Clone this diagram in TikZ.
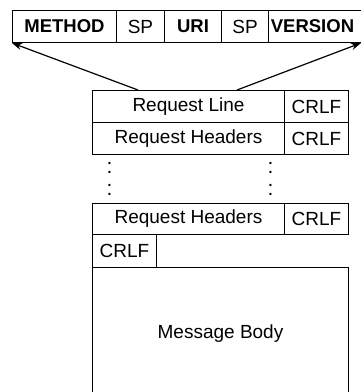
\documentclass[tikz,border=0pt]{standalone}
\usepackage{fontspec}
\setmainfont{Liberation Sans}
\usetikzlibrary{arrows.meta}
\begin{document}
\begin{tikzpicture}[x=1pt,y=-1pt,
  cell/.style={draw,line width=1pt,inner sep=0pt,anchor=north west,font=\fontsize{19}{21}\selectfont},
  bcell/.style={cell,font=\fontsize{18.5}{20}\selectfont\bfseries},
  dots/.style={inner sep=0pt,font=\fontsize{21}{22}\selectfont},
  arr/.style={line width=1.2pt,-{Stealth[length=10pt,width=7pt]}}]
\useasboundingbox (0,0) rectangle (360,392);
% top row
\node[bcell,minimum width=104pt,minimum height=32pt] (method) at (12,10) {METHOD};
\node[cell,minimum width=48pt,minimum height=32pt] (sp1) at (116,10) {SP};
\node[bcell,minimum width=57pt,minimum height=32pt] (uri) at (164,10) {URI};
\node[cell,minimum width=47pt,minimum height=32pt] (sp2) at (221,10) {SP};
\node[bcell,minimum width=96pt,minimum height=32pt] (version) at (268,10) {\hspace*{-8pt}VERSION};
% request line
\node[cell,minimum width=192pt,minimum height=32pt] (rl) at (92,90) {Request Line};
\node[cell,minimum width=64pt,minimum height=32pt] (c1) at (284,90) {CRLF};
\node[cell,minimum width=192pt,minimum height=32pt] (rh1) at (92,122) {Request Headers};
\node[cell,minimum width=64pt,minimum height=32pt] (c2) at (284,122) {CRLF};
% ellipsis
\node[dots] (d1) at (109.5,167.5) {:};
\node[dots] (d2) at (270.5,167.5) {:};
\node[dots] (d3) at (109.5,189.5) {:};
\node[dots] (d4) at (270.5,189.5) {:};
% last header
\node[cell,minimum width=192pt,minimum height=31pt] (rh2) at (92,203) {Request Headers};
\node[cell,minimum width=64pt,minimum height=31pt] (c3) at (284,203) {CRLF};
\node[cell,minimum width=64pt,minimum height=33pt] (c4) at (92,234) {CRLF};
\node[cell,minimum width=256pt,minimum height=133pt] (body) at (92,267) {Message Body};
% arrows
\coordinate (a1) at ([xshift=46pt]rl.north west);
\coordinate (a2) at ([xshift=145pt]rl.north west);
\coordinate (t2) at ([xshift=-4pt]version.south east);
\draw[arr] (a1) -- (method.south west);
\draw[arr] (a2) -- (t2);
\end{tikzpicture}
\end{document}
